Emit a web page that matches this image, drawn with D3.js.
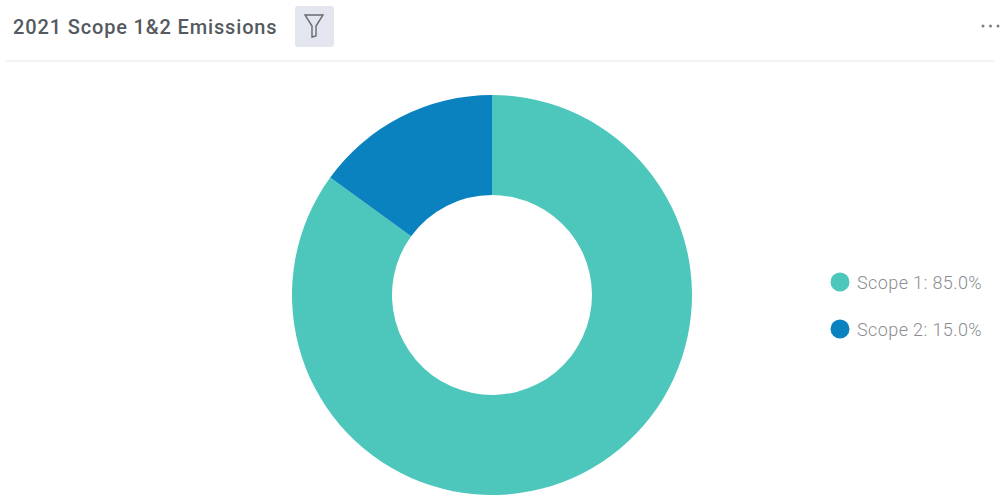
<!DOCTYPE html>
<html>
<head>
<meta charset="utf-8">
<script src="https://cdn.jsdelivr.net/npm/d3@7"></script>
<style>
  html, body { margin: 0; padding: 0; background: #fff; }
  svg { display: block; }
  text { font-family: Roboto, sans-serif; }
</style>
</head>
<body>
<script>
const title = "2021 Scope 1&2 Emissions";
const categories = ["Scope 1", "Scope 2"];
const shares = [85.0, 15.0];
const colors = ["#4dc6bb", "#0a82c0"];

const width = 1004, height = 504;
const svg = d3.select("body").append("svg")
  .attr("width", width)
  .attr("height", height);

// header
svg.append("text")
  .attr("x", 13)
  .attr("y", 34)
  .attr("font-size", 20)
  .attr("font-weight", 500)
  .attr("letter-spacing", 0.85)
  .attr("fill", "#555a60")
  .text(title);

svg.append("line")
  .attr("x1", 5).attr("x2", 995)
  .attr("y1", 61).attr("y2", 61)
  .attr("stroke", "#f2f3f4")
  .attr("stroke-width", 2);

// filter button
const filterBtn = svg.append("g").attr("transform", "translate(314,26)");
filterBtn.append("rect")
  .attr("x", -19).attr("y", -20)
  .attr("width", 39).attr("height", 41)
  .attr("rx", 3)
  .attr("fill", "#e3e6ee");
filterBtn.append("path")
  .attr("d", "M-9,-11H9L2,0V10L-2,11V0Z")
  .attr("fill", "none")
  .attr("stroke", "#666b72")
  .attr("stroke-width", 1.4);

// dots menu
svg.append("g").selectAll("circle")
  .data(d3.range(3))
  .join("circle")
  .attr("cx", d => 983 + d * 7.5)
  .attr("cy", 26)
  .attr("r", 1.5)
  .attr("fill", "#7d7f83");

// donut
const cx = 492, cy = 295, outer = 200, inner = 100;
const pie = d3.pie().sort(null)(shares);
const arc = d3.arc().innerRadius(inner).outerRadius(outer);

svg.append("g")
  .attr("transform", "translate(" + cx + "," + cy + ")")
  .selectAll("path")
  .data(pie)
  .join("path")
  .attr("d", arc)
  .attr("fill", (d, i) => colors[i]);

// legend
const legendY = d3.scalePoint().domain(categories).range([282, 329]);
const legend = svg.append("g").selectAll("g")
  .data(categories)
  .join("g")
  .attr("transform", d => "translate(840," + legendY(d) + ")");

legend.append("circle")
  .attr("r", 9.5)
  .attr("fill", (d, i) => colors[i]);

legend.append("text")
  .attr("x", 17)
  .attr("y", 6.5)
  .attr("font-size", 18)
  .attr("font-weight", 300)
  .attr("letter-spacing", 0.4)
  .attr("fill", "#8a8d91")
  .text((d, i) => d + ": " + shares[i].toFixed(1) + "%");
</script>
</body>
</html>
